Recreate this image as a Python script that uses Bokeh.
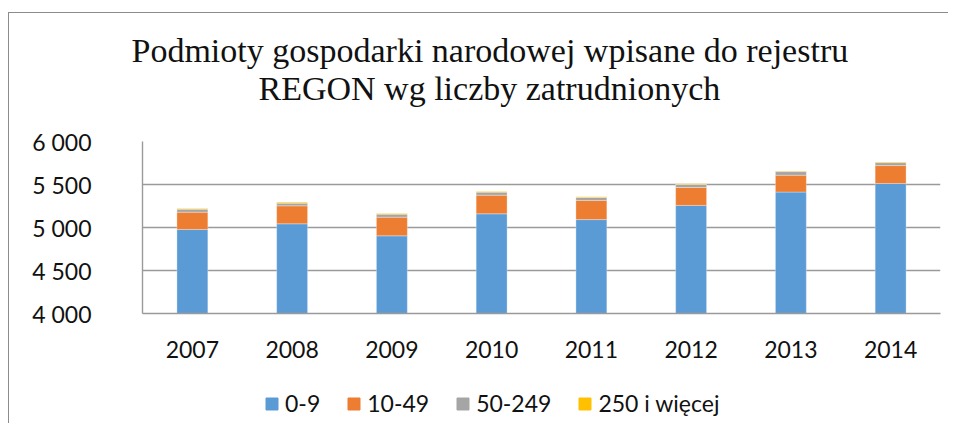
from bokeh.plotting import figure
from bokeh.layouts import column
from bokeh.models import Range1d, FixedTicker, Legend, LegendItem, Title
from bokeh.embed import file_html
from bokeh.resources import INLINE

years = ["2007", "2008", "2009", "2010", "2011", "2012", "2013", "2014"]
s_0_9 = [4977, 5043, 4903, 5159, 5092, 5257, 5412, 5512]
s_10_49 = [201, 209, 217, 217, 223, 208, 196, 208]
s_50_249 = [35, 31, 35, 35, 35, 35, 42, 34]
s_250 = [8, 12, 8, 8, 8, 8, 8, 8]
series_names = ["0-9", "10-49", "50-249", "250 i więcej"]
colors = ["#5B9BD5", "#ED7D31", "#A5A5A5", "#FFC000"]
y_ticks = [4000, 4500, 5000, 5500, 6000]
y_tick_labels = ["4 000", "4 500", "5 000", "5 500", "6 000"]
title_lines = ["Podmioty gospodarki narodowej wpisane do rejestru",
               "REGON wg liczby zatrudnionych"]

keys = ["a", "b", "c", "d"]
data = dict(years=years, a=s_0_9, b=s_10_49, c=s_50_249, d=s_250)

p = figure(x_range=years, y_range=Range1d(4000, 6000),
           frame_width=798, frame_height=172,
           output_backend="svg", toolbar_location=None, title=None,
           min_border_left=133, min_border_right=8, min_border_top=128, min_border_bottom=60)

rs = p.vbar_stack(keys, x="years", width=0.31, color=colors, source=data,
                  line_color="white", line_width=0.6, line_alpha=0.5)

FONT = "Lato"
p.outline_line_color = None
p.background_fill_color = "white"
p.border_fill_color = "white"

p.xgrid.grid_line_color = None
p.ygrid.ticker = FixedTicker(ticks=y_ticks)
p.ygrid.grid_line_color = "#9a9a9a"
p.ygrid.grid_line_width = 1.4

p.yaxis.ticker = FixedTicker(ticks=y_ticks)
p.yaxis.major_label_overrides = {t: l for t, l in zip(y_ticks, y_tick_labels)}
p.yaxis.axis_line_color = "#9a9a9a"
p.yaxis.axis_line_width = 1.4
p.yaxis.major_tick_line_color = None
p.yaxis.minor_tick_line_color = None
p.yaxis.major_tick_out = 0
p.yaxis.major_tick_in = 0
p.yaxis.minor_tick_out = 0
p.yaxis.major_label_standoff = 51
p.yaxis.major_label_text_font = FONT
p.yaxis.major_label_text_font_size = "23px"
p.yaxis.major_label_text_color = "#111111"

p.xaxis.axis_line_color = "#9a9a9a"
p.xaxis.axis_line_width = 1.4
p.xaxis.major_tick_line_color = None
p.xaxis.minor_tick_line_color = None
p.xaxis.major_tick_out = 0
p.xaxis.major_tick_in = 0
p.xaxis.minor_tick_out = 0
p.xaxis.major_label_standoff = 27
p.xaxis.major_label_text_font = FONT
p.xaxis.major_label_text_font_size = "23px"
p.xaxis.major_label_text_color = "#111111"

# second line first (closest to the plot), then first line above it
p.add_layout(Title(text=title_lines[1], align="left", offset=116,
                   text_font="Liberation Serif", text_font_size="34px",
                   text_font_style="normal", text_color="#111111", standoff=70), "above")
p.add_layout(Title(text=title_lines[0], align="left", offset=-11,
                   text_font="Liberation Serif", text_font_size="34px",
                   text_font_style="normal", text_color="#111111", standoff=-72), "above")

# legend strip below the chart (same stacked series, kept outside its visible range)
lg = figure(width=939, height=50, x_range=years, y_range=Range1d(10000, 10001),
            output_backend="svg", toolbar_location=None,
            x_axis_location=None, y_axis_location=None,
            min_border_left=0, min_border_right=0, min_border_top=0, min_border_bottom=0)
lg.outline_line_color = None
lg.xgrid.grid_line_color = None
lg.ygrid.grid_line_color = None
proxies = lg.vbar_stack(keys, x="years", width=0.31, color=colors, source=data)

legend = Legend(items=[LegendItem(label=n, renderers=[r]) for n, r in zip(series_names, proxies)],
                orientation="horizontal", location=(122, 6),
                glyph_width=15, glyph_height=15, label_standoff=6, spacing=26,
                padding=0, margin=0, border_line_color=None, background_fill_alpha=0,
                label_text_font=FONT, label_text_font_size="23px",
                label_text_color="#111111")
lg.add_layout(legend, "center")

layout = column(p, lg, spacing=0)
layout.styles = {"border-left": "1px solid #8c8c8c", "border-top": "1px solid #8c8c8c",
                 "margin-top": "12px", "margin-left": "8px"}

open("out.html", "w").write(file_html(layout, INLINE))
